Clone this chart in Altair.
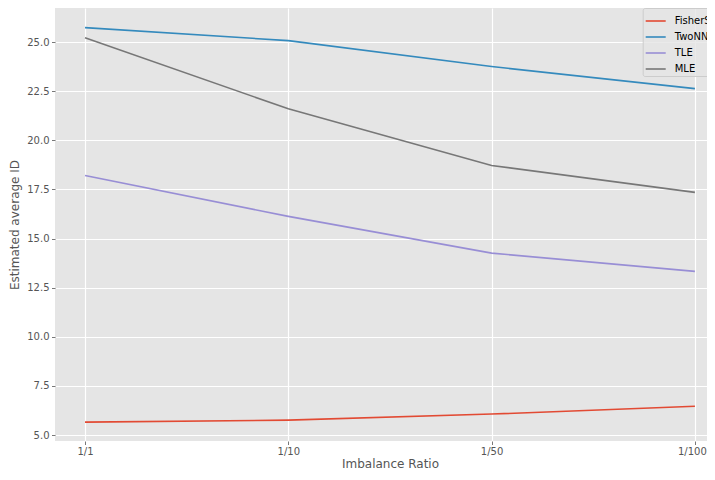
import json
import altair as alt
import pandas as pd

ratios = ["1/1", "1/10", "1/50", "1/100"]
methods = ["FisherS", "TwoNN", "TLE", "MLE"]
fishers = [5.66, 5.76, 6.07, 6.47]
twonn = [25.73, 25.07, 23.75, 22.63]
tle = [18.21, 16.13, 14.26, 13.33]
mle = [25.22, 21.60, 18.72, 17.35]
colors = ["#E24A33", "#348ABD", "#988ED5", "#777777"]
y_ticks = [5.0, 7.5, 10.0, 12.5, 15.0, 17.5, 20.0, 22.5, 25.0]

rows = []
for m, vals in zip(methods, [fishers, twonn, tle, mle]):
    for i, (r, v) in enumerate(zip(ratios, vals)):
        rows.append({"method": m, "idx": i, "ratio": r, "value": v})
df = pd.DataFrame(rows)

label_expr = json.dumps(ratios) + "[datum.value]"
last_idx = len(ratios) - 1

FONT = "DejaVu Sans"

chart = (
    alt.Chart(df)
    .mark_line(strokeWidth=1.6)
    .encode(
        x=alt.X(
            "idx:Q",
            scale=alt.Scale(domain=[-0.1476, 3.0595], nice=False, zero=False),
            axis=alt.Axis(
                values=list(range(len(ratios))),
                labelExpr=label_expr,
                labelOffset={"condition": {"test": f"datum.value == {last_idx}", "value": -3}, "value": 0},
                title="Imbalance Ratio",
                titleX=335,
                labelPadding=2,
                titlePadding=2,
            ),
        ),
        y=alt.Y(
            "value:Q",
            scale=alt.Scale(domain=[4.70, 26.73], nice=False, zero=False),
            axis=alt.Axis(
                values=y_ticks,
                format=".1f",
                title="Estimated average ID",
                labelPadding=2.5,
                titlePadding=5,
            ),
        ),
        color=alt.Color(
            "method:N",
            scale=alt.Scale(domain=methods, range=colors),
            legend=alt.Legend(
                title=None,
                orient="none",
                legendX=587.7,
                legendY=0,
                symbolType="stroke",
                symbolSize=400,
                symbolStrokeWidth=1.6,
                labelFont=FONT,
                labelFontSize=10,
                labelColor="#000000",
                labelOffset=8,
                rowPadding=-5.5,
                padding=2,
                fillColor="rgba(229,229,229,0.8)",
                strokeColor="#CCCCCC",
                cornerRadius=2,
            ),
        ),
        detail="method:N",
    )
    .properties(
        width=652,
        height=433,
        autosize=alt.AutoSizeParams(type="none"),
        padding={"left": 47, "top": 0, "right": 0, "bottom": 31},
        background="#FFFFFF",
    )
    .configure_view(fill="#E5E5E5", stroke=None)
    .configure_axis(
        grid=True,
        gridColor="#FFFFFF",
        gridWidth=1.2,
        domain=False,
        ticks=True,
        tickColor="#555555",
        tickSize=3.5,
        tickWidth=0.8,
        labelFont=FONT,
        labelFontSize=10,
        labelColor="#555555",
        titleFont=FONT,
        titleFontSize=12,
        titleFontWeight="normal",
        titleColor="#555555",
    )
)

chart.save("out.html", embed_options={"renderer": "svg", "actions": False})
